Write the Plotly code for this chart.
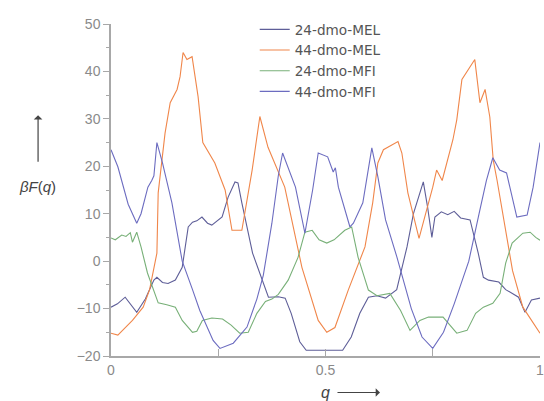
import plotly.graph_objects as go

# ---------------- data ----------------
q_mel44 = [0.0, 0.016, 0.05, 0.075, 0.09, 0.107, 0.11, 0.121, 0.126, 0.138, 0.154, 0.161, 0.168,
           0.177, 0.189, 0.191, 0.203, 0.214, 0.242, 0.266, 0.282, 0.305, 0.329, 0.347, 0.366,
           0.405, 0.445, 0.483, 0.503, 0.522, 0.553, 0.592, 0.61, 0.622, 0.635, 0.669, 0.678,
           0.692, 0.718, 0.75, 0.759, 0.772, 0.784, 0.797, 0.806, 0.818, 0.848, 0.86, 0.872,
           0.883, 0.891, 0.9, 0.936, 0.96, 1.0]
v_mel44 = [-15.2, -15.6, -12.5, -9.7, -6.0, 1.7, 14.4, 23.5, 27.0, 33.4, 36.2, 38.9, 44.0,
           42.5, 43.1, 41.9, 34.7, 25.0, 20.7, 15.0, 6.5, 6.5, 19.2, 30.5, 24.0,
           15.6, -1.3, -12.5, -15.0, -14.0, -6.1, 3.0, 12.3, 20.7, 23.5, 25.2, 22.8,
           14.4, 4.8, 15.6, 19.2, 17.0, 21.3, 25.6, 29.8, 38.3, 42.5, 33.4, 36.2,
           30.4, 21.3, 17.0, -2.0, -9.7, -15.2]

q_mel24 = [0.0, 0.015, 0.033, 0.045, 0.06, 0.08, 0.1, 0.107, 0.12, 0.133, 0.15, 0.166, 0.175,
           0.18, 0.19, 0.2, 0.212, 0.225, 0.235, 0.25, 0.259, 0.273, 0.289, 0.296, 0.305,
           0.33, 0.352, 0.367, 0.39, 0.406, 0.42, 0.44, 0.455, 0.54, 0.56, 0.58, 0.6,
           0.62, 0.64, 0.666, 0.69, 0.705, 0.728, 0.738, 0.748, 0.755, 0.77, 0.785, 0.8,
           0.815, 0.837, 0.856, 0.868, 0.88, 0.904, 0.92, 0.95, 0.965, 0.98, 1.0]
v_mel24 = [-9.7, -9.0, -7.6, -9.0, -10.8, -8.0, -4.0, -3.4, -4.5, -4.7, -4.0, -1.3, 4.0,
           7.2, 8.2, 8.5, 9.3, 8.0, 7.6, 8.7, 9.3, 13.5, 16.7, 16.5, 12.3,
           1.7, -4.0, -7.6, -7.5, -7.8, -11.0, -17.0, -18.8, -18.8, -16.0, -11.0, -7.6,
           -7.3, -7.8, -6.0, 3.0, 10.0, 16.7, 11.4, 5.0, 9.3, 10.4, 9.8, 10.5,
           9.1, 8.7, 1.7, -3.4, -4.0, -4.4, -6.0, -7.6, -10.8, -8.2, -7.8]

q_mfi24 = [0.0, 0.01, 0.025, 0.035, 0.045, 0.05, 0.06, 0.07, 0.085, 0.098, 0.11, 0.13, 0.15,
           0.166, 0.19, 0.2, 0.213, 0.235, 0.26, 0.28, 0.3, 0.32, 0.34, 0.36, 0.375, 0.39,
           0.413, 0.436, 0.452, 0.469, 0.485, 0.503, 0.52, 0.545, 0.561, 0.576, 0.6, 0.62,
           0.65, 0.675, 0.697, 0.72, 0.74, 0.774, 0.795, 0.806, 0.83, 0.85, 0.868, 0.89,
           0.907, 0.92, 0.935, 0.96, 0.977, 0.99, 1.0]
v_mfi24 = [4.9, 4.5, 5.5, 5.2, 6.0, 4.0, 6.1, 3.0, -2.5, -6.0, -8.8, -9.2, -9.7,
           -12.5, -15.0, -14.8, -12.5, -12.0, -12.2, -13.5, -15.2, -15.0, -11.0, -8.5, -8.0, -7.0,
           -4.0, 0.8, 6.1, 6.5, 4.5, 3.8, 4.5, 6.5, 7.2, 0.8, -6.1, -7.3,
           -6.8, -10.4, -14.6, -12.5, -11.8, -11.8, -13.9, -15.2, -14.6, -11.0, -9.7, -8.9,
           -6.8, -0.4, 3.8, 5.9, 6.1, 5.0, 4.4]

q_mfi44 = [0.0, 0.016, 0.04, 0.06, 0.07, 0.086, 0.095, 0.1, 0.107, 0.12, 0.142, 0.166, 0.19,
           0.207, 0.238, 0.254, 0.285, 0.317, 0.34, 0.355, 0.375, 0.39, 0.4, 0.415, 0.43,
           0.452, 0.47, 0.483, 0.505, 0.518, 0.523, 0.53, 0.557, 0.565, 0.587, 0.608, 0.622,
           0.64, 0.666, 0.7, 0.725, 0.75, 0.775, 0.8, 0.834, 0.858, 0.875, 0.89, 0.906,
           0.922, 0.936, 0.946, 0.97, 0.984, 1.0]
v_mfi44 = [23.5, 19.9, 12.0, 8.0, 10.0, 15.6, 17.0, 18.0, 25.0, 20.7, 12.3, 0.0, -6.0,
           -10.4, -16.7, -18.4, -17.3, -13.9, -8.0, -3.0, 8.0, 18.0, 22.8, 19.0, 15.6,
           5.9, 15.0, 22.8, 22.0, 18.8, 19.7, 15.6, 7.2, 8.0, 12.3, 23.9, 17.8,
           8.7, 1.0, -10.0, -16.0, -18.4, -15.0, -9.0, 0.0, 10.0, 17.0, 21.8, 19.2,
           18.6, 13.5, 9.3, 9.7, 15.6, 25.0]

series_names = ["24-dmo-MEL", "44-dmo-MEL", "24-dmo-MFI", "44-dmo-MFI"]
series_colors = ["#5e5e98", "#f0864a", "#78b078", "#6c6cc0"]

y_ticks = [-20, -10, 0, 10, 20, 30, 40, 50]
x_ticks = [0, 0.5, 1]
x_tick_labels = ["0", "0.5", "1"]

# ---------------- figure ----------------
fig = go.Figure()
data = [(q_mel24, v_mel24), (q_mel44, v_mel44), (q_mfi24, v_mfi24), (q_mfi44, v_mfi44)]
for (qq, vv), name, col in zip(data, series_names, series_colors):
    fig.add_trace(go.Scatter(x=qq, y=vv, mode="lines", name=name,
                             line=dict(color=col, width=1.1)))

axis_col = "#a8a8a8"
tick_font = dict(family="Liberation Sans, Arial, sans-serif", size=14, color="#8a8a8a")

fig.update_layout(
    width=544, height=401,
    margin=dict(l=111, r=4, t=24, b=45, autoexpand=False),
    plot_bgcolor="white", paper_bgcolor="white",
    showlegend=True,
    legend=dict(x=0.335, y=1.03, xanchor="left", yanchor="top",
                bgcolor="rgba(0,0,0,0)", borderwidth=0,
                font=dict(family="DejaVu Sans, sans-serif", size=13.6, color="#555555"),
                tracegroupgap=0),
    xaxis=dict(range=[0, 1], showgrid=False, zeroline=False, automargin=False,
               showline=True, linecolor=axis_col, linewidth=1.5,
               tickmode="array", tickvals=x_ticks, ticktext=x_tick_labels,
               ticks="inside", ticklen=7, tickcolor=axis_col, tickwidth=1.2,
               minor=dict(tickvals=[0.25, 0.75], ticks="inside", ticklen=7,
                          tickcolor=axis_col, tickwidth=1.2),
               ticklabeloverflow="allow",
               tickfont=tick_font),
    yaxis=dict(range=[-20, 50], showgrid=False, zeroline=False, automargin=False,
               showline=True, linecolor=axis_col, linewidth=1.5,
               tickmode="array", tickvals=y_ticks,
               ticks="outside", ticklen=6, tickcolor=axis_col, tickwidth=1.2,
               minor=dict(dtick=5, ticks="outside", ticklen=3,
                          tickcolor=axis_col, tickwidth=1.2),
               ticklabeloverflow="allow",
               tickfont=tick_font),
)

# axis titles as annotations
fig.add_annotation(x=-0.172, y=0.51, xref="paper", yref="paper",
                   xanchor="center", yanchor="middle",
                   text="<i>βF</i>(<i>q</i>)", showarrow=False,
                   font=dict(family="Liberation Sans, Arial, sans-serif", size=15, color="#444444"))
fig.add_annotation(x=-0.17, y=0.725, xref="paper", yref="paper", text="",
                   showarrow=True, ax=0, ay=48, arrowhead=1, arrowsize=1.2,
                   arrowwidth=1.2, arrowcolor="#444444")
fig.add_annotation(x=0.499, y=-0.11, xref="paper", yref="paper",
                   xanchor="center", yanchor="middle",
                   text="<i>q</i>", showarrow=False,
                   font=dict(family="Liberation Sans, Arial, sans-serif", size=16, color="#444444"))
fig.add_annotation(x=0.627, y=-0.11, xref="paper", yref="paper", text="",
                   showarrow=True, ax=-44, ay=0, arrowhead=1, arrowsize=1.2,
                   arrowwidth=1.2, arrowcolor="#444444")

# remove the browser's default body margin so the figure fills the window exactly
fig.write_html("out.html", config={"displayModeBar": False},
               post_script="document.body.style.margin='0px';")
